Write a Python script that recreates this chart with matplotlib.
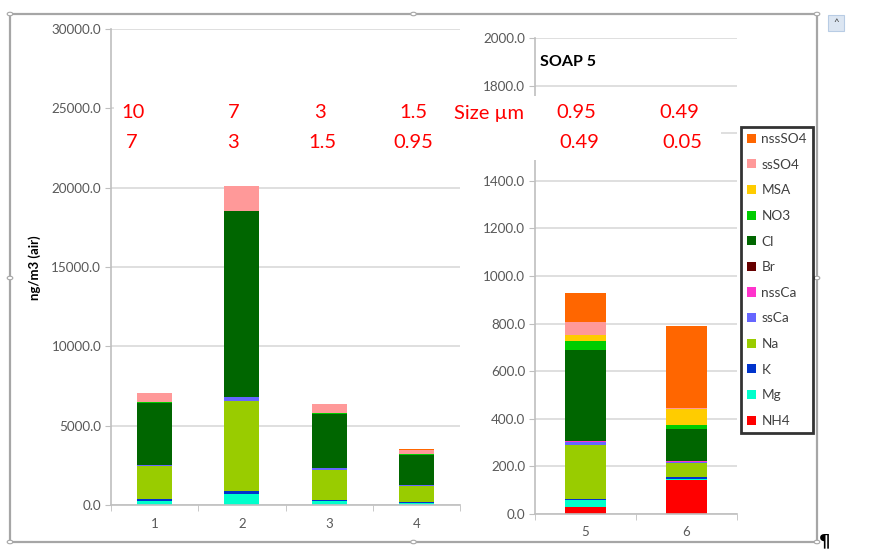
import matplotlib
matplotlib.use("Agg")
import matplotlib.pyplot as plt
from matplotlib.patches import Rectangle, Patch, Circle
import numpy as np

plt.rcParams['font.family'] = ['Lato', 'DejaVu Sans']

species = ["NH4", "Mg", "K", "Na", "ssCa", "nssCa", "Br", "Cl", "NO3", "MSA", "ssSO4", "nssSO4"]
colors = ["#FF0000", "#00FFCC", "#0033CC", "#99CC00", "#6666FF", "#FF33CC",
          "#660000", "#006600", "#00CC00", "#FFCC00", "#FF9999", "#FF6600"]

left_bins = [1, 2, 3, 4]
right_bins = [5, 6]

# values per species for stages 1..4 (ng/m3)
left_vals = {
    "NH4":    [0, 0, 0, 0],
    "Mg":     [250, 710, 250, 145],
    "K":      [100, 170, 60, 30],
    "Na":     [2090, 5690, 1920, 1045],
    "ssCa":   [100, 230, 80, 30],
    "nssCa":  [0, 0, 0, 0],
    "Br":     [0, 0, 0, 0],
    "Cl":     [3910, 11700, 3400, 1900],
    "NO3":    [30, 60, 80, 40],
    "MSA":    [0, 0, 0, 0],
    "ssSO4":  [560, 1520, 545, 270],
    "nssSO4": [0, 0, 0, 40],
}
# values per species for stages 5..6 (ng/m3)
right_vals = {
    "NH4":    [31, 144],
    "Mg":     [26, 2],
    "K":      [8, 8],
    "Na":     [225, 59],
    "ssCa":   [12, 4],
    "nssCa":  [3, 4],
    "Br":     [1, 1],
    "Cl":     [385, 137],
    "NO3":    [36, 14],
    "MSA":    [24, 70],
    "ssSO4":  [55, 2],
    "nssSO4": [124, 347],
}

size_top = ["10", "7", "3", "1.5", "Size µm", "0.95", "0.49"]
size_bot = ["7", "3", "1.5", "0.95", "", "0.49", "0.05"]

W, H = 878, 550
fig = plt.figure(figsize=(W / 100, H / 100), dpi=100)

def fx(px):
    return px / W

def fy(py):
    return 1 - py / H

grid_c = "#D9D9D9"
spine_c = "#BFBFBF"
tick_c = "#595959"

def style(ax, cats, ylim, step):
    ax.set_xlim(cats[0] - 0.5, cats[-1] + 0.5)
    ax.set_ylim(*ylim)
    ax.set_yticks(np.arange(ylim[0], ylim[1] + step / 2, step))
    ax.yaxis.set_major_formatter(matplotlib.ticker.FuncFormatter(lambda v, p: f"{v:.1f}"))
    ax.set_xticks(cats)
    ax.set_xticklabels([str(c) for c in cats])
    ax.set_xticks(np.arange(cats[0] - 0.5, cats[-1] + 0.6, 1), minor=True)
    ax.tick_params(axis='x', which='major', length=0, pad=9, labelsize=9.5, labelcolor=tick_c)
    ax.tick_params(axis='x', which='minor', length=4, color=spine_c, direction='out')
    ax.tick_params(axis='y', length=4, color=spine_c, labelsize=9.7, labelcolor=tick_c, pad=3)
    for s in ["top", "right"]:
        ax.spines[s].set_visible(False)
    for s in ["left", "bottom"]:
        ax.spines[s].set_color(spine_c)
        ax.spines[s].set_linewidth(1.2)
    ax.yaxis.grid(True, color=grid_c, linewidth=1.2)
    ax.set_axisbelow(True)

def stack(ax, cats, vals):
    bottom = np.zeros(len(cats))
    for sp, c in zip(species, colors):
        v = np.array(vals[sp], dtype=float)
        ax.bar(cats, v, width=0.4, bottom=bottom, color=c, linewidth=0)
        bottom += v

axL = fig.add_axes([fx(111), fy(505), fx(460) - fx(111), fy(29) - fy(505)])
style(axL, left_bins, (0, 30000), 5000)
stack(axL, left_bins, left_vals)
fig.text(fx(35), fy(268), "ng/m3 (air)", rotation=90, ha='center', va='center',
         fontsize=9.5, fontweight='bold', color='black')

axR = fig.add_axes([fx(535), fy(514), fx(737) - fx(535), fy(38) - fy(514)])
style(axR, right_bins, (0, 2000), 200)
stack(axR, right_bins, right_vals)
axR.text(0.025, 0.965, "SOAP 5", transform=axR.transAxes, ha='left', va='top',
         fontsize=11.5, fontweight='bold')

# white text box with size ranges
fig.patches.append(Rectangle((fx(114), fy(160)), fx(721) - fx(114), fy(96) - fy(160),
                             transform=fig.transFigure, facecolor='white', edgecolor='none', zorder=2))
xs_top = [133, 234, 320, 413, 489, 576, 679]
xs_bot = [132, 233, 322, 413, 489, 579, 682]
for x, t in zip(xs_top, size_top):
    fig.text(fx(x), fy(113), t, ha='center', va='center', color='#FF0000', fontsize=14.5, zorder=3)
for x, t in zip(xs_bot, size_bot):
    if t:
        fig.text(fx(x), fy(142), t, ha='center', va='center', color='#FF0000', fontsize=14.5, zorder=3)

# legend
handles = [Patch(facecolor=c, edgecolor='none', label=s) for s, c in zip(species, colors)][::-1]
leg = fig.legend(handles=handles, loc='upper left', bbox_to_anchor=(fx(741), fy(127)),
                 frameon=True, fancybox=False, fontsize=9.8, handlelength=0.65, handleheight=0.65,
                 handletextpad=0.4, labelspacing=1.0, borderpad=0.45, borderaxespad=0)
leg.get_frame().set_edgecolor('black')
leg.get_frame().set_linewidth(2)
for t in leg.get_texts():
    t.set_color('#404040')

# outer document frame with handles
fx0, fx1, fy0, fy1 = 10, 817, 14, 542
fig.patches.append(Rectangle((fx(fx0), fy(fy1)), fx(fx1) - fx(fx0), fy(fy0) - fy(fy1),
                             transform=fig.transFigure, facecolor='none', edgecolor='#A6A6A6',
                             linewidth=1.6, zorder=1))
for (hx, hy) in [(fx0, fy0), (fx1, fy0), (fx0, fy1), (fx1, fy1), ((fx0 + fx1) / 2, fy0),
                 ((fx0 + fx1) / 2, fy1), (fx0, (fy0 + fy1) / 2), (fx1, (fy0 + fy1) / 2)]:
    fig.patches.append(Circle((fx(hx), fy(hy)), 0.0032, transform=fig.transFigure,
                              facecolor='white', edgecolor='#A6A6A6', linewidth=0.8, zorder=4))
fig.text(fx(825), fy(541), "¶", ha='center', va='center', fontsize=13, fontweight='bold',
         family='DejaVu Sans')
fig.patches.append(Rectangle((fx(828), fy(31)), fx(16), fy(0) - fy(16), transform=fig.transFigure,
                             facecolor='#DCE6F2', edgecolor='#B8CCE4', linewidth=0.8, zorder=4))
fig.text(fx(836), fy(23), "^", ha='center', va='center', fontsize=7, color='#404040', zorder=5)

fig.savefig("out.png", dpi=100)
